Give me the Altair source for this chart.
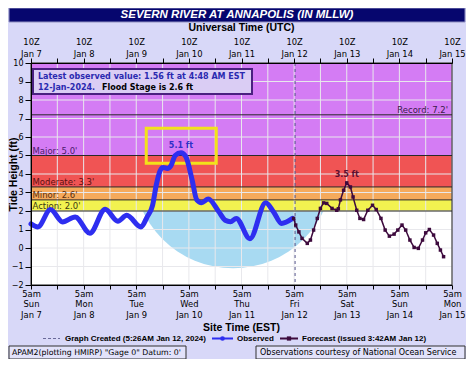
import json
import altair as alt
import pandas as pd

# ---------------- data ----------------
# x = days since Sun Jan 7, 5am EST (10Z)
day_ticks = [0, 1, 2, 3, 4, 5, 6, 7, 8]
est_hours = ["5am"] * 9
est_days = ["Sun", "Mon", "Tue", "Wed", "Thu", "Fri", "Sat", "Sun", "Mon"]
est_dates = ["Jan 7", "Jan 8", "Jan 9", "Jan 10", "Jan 11", "Jan 12", "Jan 13", "Jan 14", "Jan 15"]
utc_hours = ["10Z"] * 9
utc_dates = ["Jan 7", "Jan 8", "Jan 9", "Jan 10", "Jan 11", "Jan 12", "Jan 13", "Jan 14", "Jan 15"]
half_day_ticks = [i * 0.5 for i in range(17)]
ft_ticks = list(range(-2, 11))

obs_day = [0.00, 0.13, 0.37, 0.60, 0.84, 1.12, 1.41, 1.65, 1.82, 2.09, 2.21, 2.31, 2.38,
           2.45, 2.51, 2.59, 2.66, 2.74, 2.85, 2.94, 3.06, 3.15, 3.24, 3.37, 3.56, 3.69,
           3.79, 3.90, 4.16, 4.46, 4.61, 4.76, 4.97]
obs_ft = [1.30, 1.14, 2.08, 1.41, 1.68, 0.80, 2.09, 1.45, 1.77, 1.14, 1.70, 2.30, 3.40,
          4.15, 4.35, 4.30, 4.45, 5.00, 5.15, 4.95, 3.70, 2.60, 2.45, 2.65, 2.00, 1.50,
          1.42, 1.60, 0.50, 2.45, 1.95, 1.33, 1.60]

fc_day = [4.99, 5.03, 5.09, 5.15, 5.25, 5.31, 5.37, 5.44, 5.50, 5.56, 5.62, 5.72, 5.81,
          5.84, 5.88, 5.94, 6.00, 6.07, 6.12, 6.19, 6.25, 6.32, 6.40, 6.49, 6.56, 6.65,
          6.73, 6.81, 6.90, 6.97, 7.05, 7.12, 7.20, 7.28, 7.36, 7.44, 7.50, 7.57, 7.65,
          7.72, 7.78, 7.84]
fc_ft = [1.60, 1.24, 0.87, 0.52, 0.25, 0.43, 0.97, 1.60, 2.14, 2.44, 2.41, 2.14, 2.04,
         2.12, 2.60, 3.12, 3.52, 3.30, 2.76, 2.04, 1.60, 1.54, 2.04, 2.31, 2.08, 1.60,
         0.97, 0.64, 0.75, 0.97, 1.24, 0.97, 0.43, 0.03, -0.02, 0.43, 0.82, 1.00, 0.70,
         0.25, -0.11, -0.47]

stage_names = ["Action", "Minor", "Moderate", "Major", "Record"]
stage_ft = [2.0, 2.6, 3.3, 5.0, 7.2]
top_ft = 10
created_day = [5.018]          # graph created 5:26AM Jan 12
obs_peak = {"day": 2.85, "ft": 5.15, "label": "5.1 ft"}
fc_peak = {"day": 6.00, "ft": 3.52, "label": "3.5 ft"}
peak_box = {"x": 2.19, "x2": 3.52, "y": 4.58, "y2": 6.47}
logo_center = {"day": 3.84, "ft": 4.31}

# ---------------- styles ----------------
W, H = 421, 222
BG = "#d8d8f8"
band_colors = {"Action": "#f2f250", "Minor": "#f5aa5c", "Moderate": "#f05454", "Major": "#d47cf4"}
label_colors = {"Action": "#3a3a10", "Minor": "#5a3010", "Moderate": "#5a1010",
                "Major": "#4b1a6b", "Record": "#3a1a4a"}
OBS_C = "#2e2ef0"
FC_C = "#3d0a3d"
FS = "DejaVu Sans"
FA = "Liberation Sans"

xs = alt.Scale(domain=[0, 8], nice=False, zero=False)
ys = alt.Scale(domain=[-2, 10], nice=False, zero=False)
NX = alt.X("x:Q", scale=xs, axis=None)
NY = alt.Y("y:Q", scale=ys, axis=None)

bottom_lbl = json.dumps([[h, d, t] for h, d, t in zip(est_hours, est_days, est_dates)])
top_lbl = json.dumps([[h, t] for h, t in zip(utc_hours, utc_dates)])

common_axis = dict(values=half_day_ticks, labelColor="black", labelFont=FS, labelFontSize=8.4,
                   tickColor="black", domainColor="black", grid=False, labelOverlap=False,
                   labelFlush=False, labelBound=False, title=None, zindex=1)

bottom_axis = alt.Axis(orient="bottom", tickSize=4, labelPadding=0, labelLineHeight=10.5,
                       labelExpr=f"datum.value % 1 == 0 ? {bottom_lbl}[datum.value] : ''",
                       **common_axis)
top_axis = alt.Axis(orient="top", tickSize=5, labelPadding=11.5, labelLineHeight=12,
                    labelExpr=f"datum.value % 1 == 0 ? {top_lbl}[datum.value] : ''",
                    **common_axis)
left_axis = alt.Axis(orient="left", values=ft_ticks, tickSize=6, labelPadding=2,
                     labelColor="black", labelFont=FS, labelFontSize=8, tickColor="black",
                     domainColor="black", grid=False, title="Tide Height (ft)",
                     titleFont=FA, titleFontSize=10.5, titleFontWeight="bold",
                     titleColor="black", titleX=-13, titleY=H / 2, zindex=1)

# ---------------- frames ----------------
obs_df = pd.DataFrame({"x": obs_day, "y": obs_ft})
fc_df = pd.DataFrame({"x": fc_day, "y": fc_ft})
lows = stage_ft[:4]
highs = stage_ft[1:4] + [top_ft]
band_df = pd.DataFrame({"y": lows, "y2": highs,
                        "c": [band_colors[n] for n in stage_names[:4]]})
stage_df = pd.DataFrame({"y": stage_ft, "name": stage_names,
                         "label": [f"{n}: {v:.1f}'" for n, v in zip(stage_names, stage_ft)],
                         "c": [label_colors[n] for n in stage_names]})
gx_df = pd.DataFrame({"x": half_day_ticks})
gy_df = pd.DataFrame({"y": ft_ticks})
one = pd.DataFrame({"k": [0]})

# ---------------- layers ----------------
logo = alt.Chart(pd.DataFrame({"x": [logo_center["day"]], "y": [logo_center["ft"]]})).mark_circle(
    size=40000, color="#a8daf2", opacity=1, clip=True).encode(x=NX, y=NY)

bands = alt.Chart(band_df).mark_rect().encode(
    y=NY, y2="y2:Q", x=alt.value(0), x2=alt.value(W), color=alt.Color("c:N", scale=None))

grid_x = alt.Chart(gx_df).mark_rule(color="#e8e8ec", strokeWidth=1).encode(
    x=alt.X("x:Q", scale=xs, axis=bottom_axis))
top_carrier = alt.Chart(gx_df).mark_rule(opacity=0).encode(
    x=alt.X("x:Q", scale=xs, axis=top_axis))
grid_y = alt.Chart(gy_df).mark_rule(color="#e8e8ec", strokeWidth=1).encode(
    y=alt.Y("y:Q", scale=ys, axis=left_axis))

stage_rules = alt.Chart(stage_df).mark_rule(color="#2a2a2a", strokeWidth=1).encode(y=NY)
stage_lbl_left = alt.Chart(stage_df).transform_filter("datum.name != 'Record'").mark_text(
    align="left", baseline="alphabetic", dy=-2, font=FS, fontSize=8.5).encode(
    x=alt.value(1.5), y=NY, text="label:N", color=alt.Color("c:N", scale=None))
stage_lbl_right = alt.Chart(stage_df).transform_filter("datum.name == 'Record'").mark_text(
    align="right", baseline="alphabetic", dy=-2, font=FS, fontSize=8.5).encode(
    x=alt.value(W - 4), y=NY, text="label:N", color=alt.Color("c:N", scale=None))

info_box = alt.Chart(one).mark_rect(fill="#dacdf4", stroke="#4a2080", strokeWidth=2).encode(
    x=alt.value(2), x2=alt.value(221), y=alt.value(6), y2=alt.value(31))
info1 = alt.Chart(one).mark_text(align="left", baseline="middle", font=FS, fontSize=8,
                                 fontWeight="bold", color="#2a2ab0").encode(
    x=alt.value(7), y=alt.value(14), text=alt.value("Latest observed value: 1.56 ft at 4:48 AM EST"))
info2a = alt.Chart(one).mark_text(align="left", baseline="middle", font=FS, fontSize=8,
                                  fontWeight="bold", color="#2a2ab0").encode(
    x=alt.value(7), y=alt.value(25), text=alt.value("12-Jan-2024."))
info2b = alt.Chart(one).mark_text(align="left", baseline="middle", font=FS, fontSize=8,
                                  fontWeight="bold", color="black").encode(
    x=alt.value(71), y=alt.value(25), text=alt.value("Flood Stage is 2.6 ft"))

pbox = alt.Chart(pd.DataFrame([peak_box])).mark_rect(
    fillOpacity=0, stroke="#f2e21a", strokeWidth=3).encode(
    x=alt.X("x:Q", scale=xs, axis=None), x2="x2:Q",
    y=alt.Y("y:Q", scale=ys, axis=None), y2="y2:Q")

obs_line = alt.Chart(obs_df).mark_line(color=OBS_C, strokeWidth=5, interpolate="monotone",
                                       strokeCap="round", strokeJoin="round").encode(x=NX, y=NY)
fc_line = alt.Chart(fc_df).mark_line(color=FC_C, strokeWidth=1.5).encode(x=NX, y=NY)
fc_pts = alt.Chart(fc_df).mark_square(size=12, color=FC_C, opacity=1).encode(x=NX, y=NY)

created = alt.Chart(pd.DataFrame({"x": created_day})).mark_rule(
    color="#55558a", strokeDash=[3, 3], strokeWidth=1).encode(x=NX)

obs_pk = alt.Chart(pd.DataFrame([{"x": obs_peak["day"], "y": obs_peak["ft"], "t": obs_peak["label"]}])).mark_text(
    baseline="alphabetic", dy=-5, font=FS, fontSize=8, fontWeight="bold", color="#3030c8").encode(
    x=NX, y=NY, text="t:N")
fc_pk = alt.Chart(pd.DataFrame([{"x": fc_peak["day"], "y": fc_peak["ft"], "t": fc_peak["label"]}])).mark_text(
    baseline="alphabetic", dy=-6, font=FS, fontSize=8, fontWeight="bold", color="#5a1030").encode(
    x=NX, y=NY, text="t:N")

frame = alt.Chart(one).mark_rect(fillOpacity=0, stroke="#202020", strokeWidth=1).encode(
    x=alt.value(0), x2=alt.value(W), y=alt.value(0), y2=alt.value(H))

# axis titles
axis_title_font = dict(align="center", baseline="middle", font=FA, fontSize=10.5,
                       fontWeight="bold", color="black")
utc_title = alt.Chart(one).mark_text(**axis_title_font).encode(
    x=alt.value(W / 2), y=alt.value(-35.5), text=alt.value("Universal Time (UTC)"))
est_title = alt.Chart(one).mark_text(**axis_title_font).encode(
    x=alt.value(W / 2), y=alt.value(265), text=alt.value("Site Time (EST)"))

# title bar
title_bar = alt.Chart(one).mark_rect(fill="#06066e", stroke="#9090c0", strokeWidth=1).encode(
    x=alt.value(-22), x2=alt.value(434), y=alt.value(-55), y2=alt.value(-41))
title_txt = alt.Chart(one).mark_text(align="center", baseline="middle", font=FA, fontSize=11.5,
                                     fontWeight="bold", fontStyle="italic", color="white").encode(
    x=alt.value(206), y=alt.value(-48), text=alt.value("SEVERN RIVER AT ANNAPOLIS (IN MLLW)"))

# legend row
LY = 275.5
leg_font = dict(align="left", baseline="middle", font=FA, fontSize=8, fontWeight="bold", color="black")
leg_dash = alt.Chart(one).mark_rule(color="#6a6a9a", strokeDash=[3, 2], strokeWidth=1).encode(
    x=alt.value(12), x2=alt.value(29), y=alt.value(LY))
leg_t1 = alt.Chart(one).mark_text(**leg_font).encode(
    x=alt.value(34), y=alt.value(LY), text=alt.value("Graph Created (5:26AM Jan 12, 2024)"))
leg_obs_l = alt.Chart(one).mark_rule(color=OBS_C, strokeWidth=2).encode(
    x=alt.value(181), x2=alt.value(202), y=alt.value(LY))
leg_obs_p = alt.Chart(one).mark_circle(size=22, color=OBS_C, opacity=1).encode(
    x=alt.value(191.5), y=alt.value(LY))
leg_t2 = alt.Chart(one).mark_text(**leg_font).encode(
    x=alt.value(206), y=alt.value(LY), text=alt.value("Observed"))
leg_fc_l = alt.Chart(one).mark_rule(color=FC_C, strokeWidth=2).encode(
    x=alt.value(249), x2=alt.value(267), y=alt.value(LY))
leg_fc_p = alt.Chart(one).mark_square(size=18, color=FC_C, opacity=1).encode(
    x=alt.value(258), y=alt.value(LY))
leg_t3 = alt.Chart(one).mark_text(**leg_font).encode(
    x=alt.value(271), y=alt.value(LY), text=alt.value("Forecast (issued 3:42AM Jan 12)"))

# footer boxes
FY, FY2 = 283, 296
foot_l = alt.Chart(one).mark_rect(fill="#e2e2fa", stroke="#303030", strokeWidth=1).encode(
    x=alt.value(-22), x2=alt.value(155), y=alt.value(FY), y2=alt.value(FY2))
foot_r = alt.Chart(one).mark_rect(fill="#e2e2fa", stroke="#303030", strokeWidth=1).encode(
    x=alt.value(225), x2=alt.value(434), y=alt.value(FY), y2=alt.value(FY2))
foot_lt = alt.Chart(one).mark_text(align="left", baseline="middle", font=FS, fontSize=7.8, color="black").encode(
    x=alt.value(-19), y=alt.value((FY + FY2) / 2), text=alt.value('APAM2(plotting HMIRP) "Gage 0" Datum: 0\''))
foot_rt = alt.Chart(one).mark_text(align="left", baseline="middle", font=FS, fontSize=8, color="black").encode(
    x=alt.value(229), y=alt.value((FY + FY2) / 2), text=alt.value("Observations courtesy of National Ocean Service"))

chart = alt.layer(
    logo, bands, grid_x, top_carrier, grid_y, stage_rules, stage_lbl_left, stage_lbl_right,
    info_box, info1, info2a, info2b, pbox, created, obs_line, fc_line, fc_pts, obs_pk, fc_pk,
    frame, utc_title, est_title, title_bar, title_txt,
    leg_dash, leg_t1, leg_obs_l, leg_obs_p, leg_t2, leg_fc_l, leg_fc_p, leg_t3,
    foot_l, foot_r, foot_lt, foot_rt,
).resolve_axis(x="independent", y="independent").properties(
    width=W, height=H,
    padding={"left": 23, "top": 55, "right": 14, "bottom": 74},
    autosize=alt.AutoSizeParams(type="none"),
    background=BG,
).configure_view(fill="white", stroke=None)

chart.save("out.html", embed_options={"renderer": "svg", "actions": False})
